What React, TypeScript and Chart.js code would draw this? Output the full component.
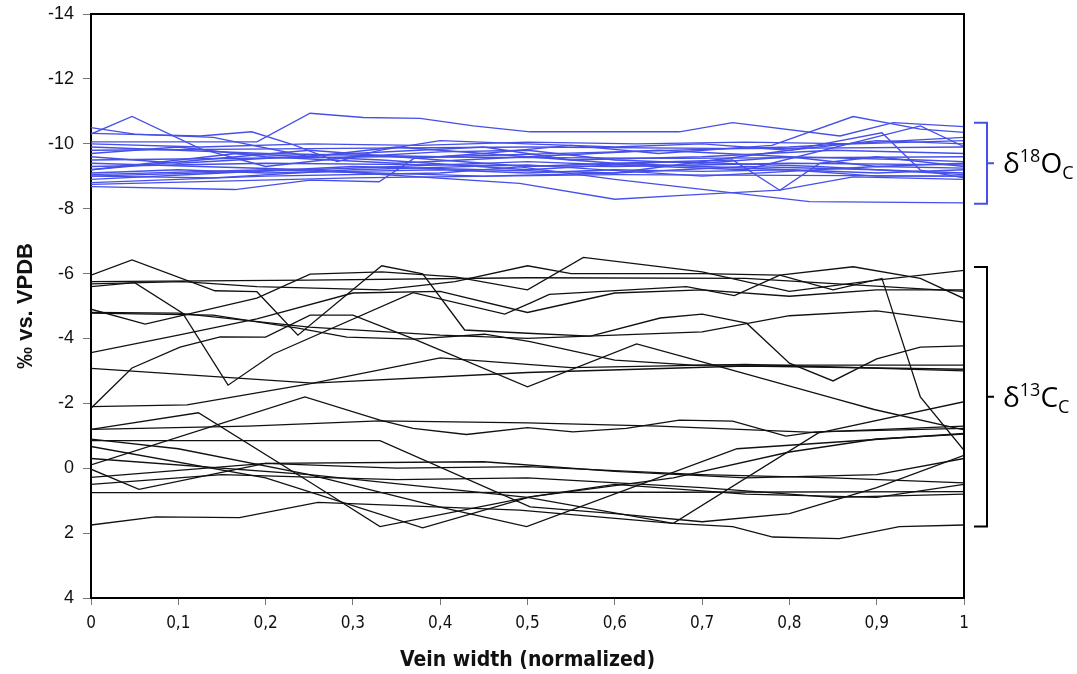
import React, { useEffect, useRef } from 'react';
import { Chart, registerables } from 'chart.js';

Chart.register(...registerables);

type Pt = [number, number];

// ---------- axis settings ----------
const xMin = 0;
const xMax = 1;
const xStep = 0.1;
const yMin = -14;
const yMax = 4;
const yStep = 2;

const xTitle = 'Vein width (normalized)';
const yTitle = '‰ vs. VPDB';

// bracket ranges (data units) for the right-hand labels
const oxygenRange: Pt = [-10.65, -8.15];
const carbonRange: Pt = [-6.2, 1.8];

// ---------- δ18O series (blue) ----------
const o18_01: Pt[] = [[0, -10.3], [0.047, -10.84], [0.125, -9.85], [0.2, -9.3], [0.3, -9.6], [0.4, -9.75], [0.5, -9.8], [0.6, -9.5], [0.7, -9.4], [0.8, -9.6], [0.9, -9.3], [1, -9.4]];
const o18_02: Pt[] = [[0, -10.32], [0.125, -10.24], [0.184, -10.37], [0.233, -9.96], [0.282, -9.45], [0.33, -9.8], [0.4, -10.1], [0.5, -10.0], [0.6, -9.9], [0.7, -10.0], [0.8, -9.8], [0.9, -10.1], [1, -10.0]];
const o18_03: Pt[] = [[0, -10.06], [0.19, -10.06], [0.251, -10.94], [0.312, -10.81], [0.377, -10.78], [0.438, -10.55], [0.503, -10.37], [0.674, -10.37], [0.735, -10.65], [0.858, -10.24], [0.919, -10.65], [1, -10.53]];
const o18_04: Pt[] = [[0, -10.5], [0.05, -10.3], [0.14, -10.2], [0.25, -9.6], [0.35, -9.9], [0.45, -9.7], [0.55, -9.95], [0.65, -9.7], [0.78, -9.95], [0.873, -10.84], [0.95, -10.45], [1, -10.35]];
const o18_05: Pt[] = [[0, -8.68], [0.165, -8.59], [0.251, -8.88], [0.33, -8.83], [0.37, -9.55], [0.45, -9.7], [0.5, -9.6], [0.6, -9.4], [0.7, -9.3], [0.8, -9.2], [0.9, -9.0], [1, -9.0]];
const o18_06: Pt[] = [[0, -8.8], [0.2, -9.0], [0.4, -9.1], [0.491, -9.29], [0.6, -8.9], [0.823, -8.22], [1, -8.18]];
const o18_07: Pt[] = [[0, -9.0], [0.25, -9.2], [0.491, -8.78], [0.6, -8.29], [0.682, -8.42], [0.789, -8.57], [0.873, -8.98], [1, -8.9]];
const o18_08: Pt[] = [[0, -9.2], [0.125, -9.5], [0.25, -9.8], [0.4, -9.5], [0.5, -9.3], [0.6, -9.4], [0.735, -9.5], [0.789, -8.57], [0.835, -9.4], [0.9, -9.6], [1, -9.3]];
const o18_09: Pt[] = [[0, -9.1], [0.1, -9.2], [0.2, -9.1], [0.3, -9.15], [0.4, -9.2], [0.5, -9.1], [0.6, -9.2], [0.7, -9.15], [0.8, -9.2], [0.9, -9.1], [1, -9.2]];
const o18_10: Pt[] = [[0, -9.5], [0.33, -9.6], [0.67, -9.55], [1, -9.6]];
const o18_11: Pt[] = [[0, -9.8], [0.25, -9.85], [0.5, -9.9], [0.75, -9.85], [1, -9.9]];
const o18_12: Pt[] = [[0, -9.3], [0.2, -9.4], [0.4, -9.35], [0.6, -9.3], [0.8, -9.4], [1, -9.35]];
const o18_13: Pt[] = [[0, -9.6], [0.1, -9.4], [0.3, -9.7], [0.45, -9.9], [0.55, -9.5], [0.7, -9.6], [0.85, -9.8], [1, -9.7]];
const o18_14: Pt[] = [[0, -8.9], [0.15, -9.1], [0.3, -9.3], [0.45, -9.2], [0.6, -9.1], [0.75, -9.3], [0.9, -9.2], [1, -9.1]];
const o18_15: Pt[] = [[0, -9.7], [0.1, -9.9], [0.2, -9.6], [0.35, -9.4], [0.5, -9.6], [0.65, -9.8], [0.8, -9.6], [0.95, -9.5], [1, -9.45]];
const o18_16: Pt[] = [[0, -10.0], [0.125, -9.9], [0.25, -10.0], [0.375, -9.95], [0.5, -10.05], [0.625, -10.0], [0.75, -10.05], [0.875, -10.0], [1, -10.1]];
const o18_17: Pt[] = [[0, -9.05], [0.2, -9.2], [0.45, -9.0], [0.6, -9.1], [0.8, -9.8], [0.906, -10.34], [0.95, -9.19], [1, -8.95]];
const o18_18: Pt[] = [[0, -9.4], [0.25, -9.2], [0.5, -9.45], [0.75, -9.2], [0.95, -10.55], [1, -9.91]];
const o18_19: Pt[] = [[0, -9.2], [0.167, -9.7], [0.333, -9.5], [0.5, -9.2], [0.667, -9.45], [0.833, -9.3], [1, -9.05]];
const o18_20: Pt[] = [[0, -9.9], [0.2, -9.7], [0.4, -9.6], [0.6, -9.75], [0.8, -9.9], [1, -10.2]];
const o18_21: Pt[] = [[0, -8.75], [0.3, -8.95], [0.6, -9.05], [1, -9.0]];
const o18_22: Pt[] = [[0, -9.0], [0.14, -8.95], [0.3, -9.2], [0.5, -9.35], [0.7, -9.0], [0.9, -9.3], [1, -9.25]];

// ---------- δ13C series (black) ----------
const c13_01: Pt[] = [[0, -5.95], [0.047, -6.42], [0.142, -5.47], [0.19, -5.44], [0.237, -4.1], [0.333, -6.24], [0.38, -5.99], [0.428, -4.26], [0.5, -4.16], [0.572, -4.07], [0.652, -4.63], [0.7, -4.75], [0.751, -4.47], [0.8, -3.24], [0.85, -2.69], [0.9, -3.37], [0.95, -3.73], [1, -3.77]];
const c13_02: Pt[] = [[0, -5.75], [0.25, -5.8], [0.5, -5.87], [0.75, -5.85], [1, -5.45]];
const c13_03: Pt[] = [[0, -5.68], [0.105, -5.75], [0.19, -5.6], [0.333, -5.5], [0.417, -5.75], [0.5, -6.24], [0.55, -6.0], [0.7, -6.0], [0.789, -5.95], [0.85, -5.5], [0.906, -5.85], [0.95, -2.2], [1, -0.55]];
const c13_04: Pt[] = [[0, -5.6], [0.05, -5.72], [0.105, -4.78], [0.157, -2.56], [0.209, -3.52], [0.369, -5.41], [0.474, -4.75], [0.503, -5.09], [0.525, -5.36], [0.682, -5.6], [0.737, -5.32], [0.789, -5.95], [0.873, -6.21], [0.95, -5.85], [1, -5.23]];
const c13_05: Pt[] = [[0, -4.9], [0.062, -4.44], [0.19, -5.24], [0.251, -5.98], [0.333, -6.05], [0.417, -5.9], [0.5, -5.5], [0.564, -6.5], [0.7, -6.05], [0.8, -5.45], [0.9, -5.8], [1, -6.1]];
const c13_06: Pt[] = [[0, -4.78], [0.14, -4.72], [0.237, -4.32], [0.293, -4.04], [0.369, -3.98], [0.451, -4.13], [0.503, -3.9], [0.6, -3.33], [0.69, -3.18], [1, -3.18]];
const c13_07: Pt[] = [[0, -4.8], [0.1, -4.78], [0.25, -4.35], [0.4, -4.1], [0.5, -4.0], [0.6, -4.1], [0.7, -4.2], [0.8, -4.7], [0.9, -4.85], [1, -4.5]];
const c13_08: Pt[] = [[0, -3.56], [0.1, -4.1], [0.19, -4.6], [0.3, -5.4], [0.4, -5.45], [0.5, -4.8], [0.6, -5.4], [0.7, -5.5], [0.8, -5.3], [0.9, -5.5], [1, -5.5]];
const c13_09: Pt[] = [[0, -3.08], [0.254, -2.62], [0.5, -2.95], [0.75, -3.15], [1, -3.05]];
const c13_10: Pt[] = [[0, -1.9], [0.11, -1.95], [0.25, -2.6], [0.4, -3.4], [0.55, -3.1], [0.75, -3.2], [1, -3.0]];
const c13_11: Pt[] = [[0, -1.85], [0.047, -3.09], [0.102, -3.73], [0.148, -4.05], [0.2, -4.04], [0.251, -4.72], [0.3, -4.72], [0.373, -3.95], [0.5, -2.51], [0.625, -3.83], [0.72, -3.13], [0.85, -2.16], [0.897, -1.81], [1, -1.18]];
const c13_12: Pt[] = [[0, -0.1], [0.245, -2.2], [0.331, -1.48], [0.369, -1.23], [0.43, -1.04], [0.5, -1.25], [0.552, -1.12], [0.613, -1.23], [0.674, -1.48], [0.735, -1.45], [0.796, -0.99], [0.83, -1.12], [1, -1.23]];
const c13_13: Pt[] = [[0, -1.2], [0.18, -1.3], [0.33, -1.46], [0.5, -1.4], [0.65, -1.3], [0.835, -1.1], [1, -2.05]];
const c13_14: Pt[] = [[0, -0.85], [0.331, -0.85], [0.503, 1.19], [0.6, 1.4], [0.7, 1.65], [0.8, 1.4], [0.9, 0.6], [1, -0.4]];
const c13_15: Pt[] = [[0, 1.75], [0.074, 1.5], [0.17, 1.52], [0.26, 1.05], [0.491, 1.29], [0.667, 1.7], [0.735, 1.8], [0.781, 2.12], [0.857, 2.17], [0.926, 1.8], [1, 1.75]];
const c13_16: Pt[] = [[0, 0.03], [0.055, 0.65], [0.2, -0.15], [0.35, 0.0], [0.5, -0.05], [0.7, 0.2], [0.85, 0.3], [1, 0.45]];
const c13_17: Pt[] = [[0, 0.75], [0.33, 0.75], [0.67, 0.74], [1, 0.72]];
const c13_18: Pt[] = [[0, -1.2], [0.123, -1.71], [0.255, 0.5], [0.331, 1.8], [0.503, 0.88], [0.667, 0.3], [0.8, -0.5], [0.9, -0.9], [1, -1.05]];
const c13_19: Pt[] = [[0, -0.67], [0.2, 0.3], [0.38, 1.84], [0.503, 0.88], [0.6, 0.5], [0.75, 0.8], [0.9, 0.9], [1, 0.5]];
const c13_20: Pt[] = [[0, 0.28], [0.2, -0.15], [0.45, -0.2], [0.6, 0.1], [0.75, 0.3], [0.9, 0.2], [1, -0.3]];
const c13_21: Pt[] = [[0, 0.5], [0.15, 0.2], [0.35, 0.35], [0.5, 0.3], [0.7, 0.6], [0.85, 0.9], [1, 0.8]];
const c13_22: Pt[] = [[0, -0.9], [0.1, -0.6], [0.25, 0.2], [0.4, 1.2], [0.499, 1.8], [0.74, -0.6], [1, -1.07]];
const c13_23: Pt[] = [[0, -0.3], [0.25, 0.2], [0.5, 0.9], [0.667, 1.7], [0.835, -1.12], [1, -1.3]];

const oxygenSeries: Pt[][] = [o18_01, o18_02, o18_03, o18_04, o18_05, o18_06, o18_07, o18_08, o18_09, o18_10, o18_11, o18_12, o18_13, o18_14, o18_15, o18_16, o18_17, o18_18, o18_19, o18_20, o18_21, o18_22];
const carbonSeries: Pt[][] = [c13_01, c13_02, c13_03, c13_04, c13_05, c13_06, c13_07, c13_08, c13_09, c13_10, c13_11, c13_12, c13_13, c13_14, c13_15, c13_16, c13_17, c13_18, c13_19, c13_20, c13_21, c13_22, c13_23];

// ---------- styling ----------
const BLUE = '#4650e8';
const BLACK = '#111111';
const SANS = '"Liberation Sans", Arial, sans-serif';
const NARROW = '"Liberation Sans Narrow", "DejaVu Sans Condensed", "Open Sans", sans-serif';
const LABEL = '"Open Sans", "Noto Sans", sans-serif';

function fmtX(v: number): string {
  const r = Math.round(v * 10) / 10;
  return String(r).replace('.', ',');
}

function drawIso(ctx: CanvasRenderingContext2D, x: number, y: number, sup: string, main: string, sub: string, color: string) {
  ctx.fillStyle = color;
  ctx.textBaseline = 'alphabetic';
  ctx.textAlign = 'left';
  const big = `28px ${LABEL}`;
  const small = `18px ${LABEL}`;
  ctx.font = big;
  ctx.fillText('δ', x, y);
  let cx = x + ctx.measureText('δ').width;
  ctx.font = small;
  ctx.fillText(sup, cx, y - 11);
  cx += ctx.measureText(sup).width;
  ctx.font = big;
  ctx.fillText(main, cx, y);
  cx += ctx.measureText(main).width;
  ctx.font = small;
  ctx.fillText(sub, cx, y + 6);
}

const framePlugin = {
  id: 'frameAndBrackets',
  afterDraw(chart: any) {
    const { ctx, chartArea } = chart;
    const { left, top, right, bottom } = chartArea;
    const ys = chart.scales.y;
    ctx.save();
    ctx.strokeStyle = '#000';
    ctx.lineWidth = 2;
    ctx.beginPath();
    ctx.moveTo(left, top);
    ctx.lineTo(right, top);
    ctx.lineTo(right, bottom);
    ctx.stroke();

    const bracket = (range: Pt, color: string, sup: string, main: string, sub: string) => {
      const y1 = ys.getPixelForValue(range[0]);
      const y2 = ys.getPixelForValue(range[1]);
      const ym = (y1 + y2) / 2;
      const xa = right + 10;
      const xb = right + 23;
      ctx.strokeStyle = color;
      ctx.lineWidth = 2;
      ctx.beginPath();
      ctx.moveTo(xa, y1);
      ctx.lineTo(xb, y1);
      ctx.lineTo(xb, y2);
      ctx.lineTo(xa, y2);
      ctx.moveTo(xb, ym);
      ctx.lineTo(xb + 7, ym);
      ctx.stroke();
      drawIso(ctx, right + 39, ym + 10, sup, main, sub, '#000');
    };
    bracket(oxygenRange, BLUE, '18', 'O', 'C');
    bracket(carbonRange, '#000', '13', 'C', 'C');
    ctx.restore();
  },
};

export default function App() {
  const canvasRef = useRef<HTMLCanvasElement | null>(null);

  useEffect(() => {
    document.body.style.margin = '0';
    const canvas = canvasRef.current;
    if (!canvas) return;

    const datasets: any[] = [];
    oxygenSeries.forEach((s, i) => {
      datasets.push({
        label: `δ18O ${i + 1}`,
        data: s.map(([x, y]) => ({ x, y })),
        borderColor: BLUE,
        borderWidth: 1.3,
        pointRadius: 0,
        showLine: true,
        fill: false,
        tension: 0,
      });
    });
    carbonSeries.forEach((s, i) => {
      datasets.push({
        label: `δ13C ${i + 1}`,
        data: s.map(([x, y]) => ({ x, y })),
        borderColor: BLACK,
        borderWidth: 1.3,
        pointRadius: 0,
        showLine: true,
        fill: false,
        tension: 0,
      });
    });

    const chart = new Chart(canvas, {
      type: 'scatter',
      data: { datasets },
      options: {
        responsive: false,
        animation: false,
        devicePixelRatio: 1,
        layout: { padding: { left: 0, top: 14, right: 113, bottom: 0 } },
        plugins: {
          legend: { display: false },
          tooltip: { enabled: false },
        },
        scales: {
          x: {
            type: 'linear',
            min: xMin,
            max: xMax,
            ticks: {
              stepSize: xStep,
              autoSkip: false,
              maxRotation: 0,
              padding: 8,
              color: '#111',
              font: { family: NARROW, size: 17 },
              callback: (v: any) => fmtX(Number(v)),
            },
            grid: { drawOnChartArea: false, drawTicks: true, tickLength: 7, color: '#777', lineWidth: 1 },
            border: { display: true, color: '#000', width: 2 },
            title: {
              display: true,
              text: xTitle,
              color: '#111',
              font: { family: NARROW, size: 21, weight: 'bold' },
              padding: { top: 0, bottom: 1 },
            },
            afterFit: (s: any) => { s.height = 76; s.paddingLeft = 0; s.paddingRight = 0; },
          },
          y: {
            type: 'linear',
            min: yMin,
            max: yMax,
            reverse: true,
            ticks: {
              stepSize: yStep,
              autoSkip: false,
              padding: 9,
              color: '#111',
              font: { family: SANS, size: 18 },
            },
            grid: { drawOnChartArea: false, drawTicks: true, tickLength: 8, color: '#777', lineWidth: 1 },
            border: { display: true, color: '#000', width: 2 },
            title: {
              display: true,
              text: yTitle,
              color: '#111',
              font: { family: SANS, size: 22, weight: 'bold' },
              padding: { top: 13, bottom: 0 },
            },
            afterFit: (s: any) => { s.width = 91; s.paddingTop = 0; s.paddingBottom = 0; },
          },
        },
      },
      plugins: [framePlugin],
    } as any);

    return () => chart.destroy();
  }, []);

  return (
    <div style={{ width: 1077, height: 674, background: '#fff' }}>
      <canvas ref={canvasRef} width={1077} height={674} style={{ display: 'block' }} />
    </div>
  );
}
